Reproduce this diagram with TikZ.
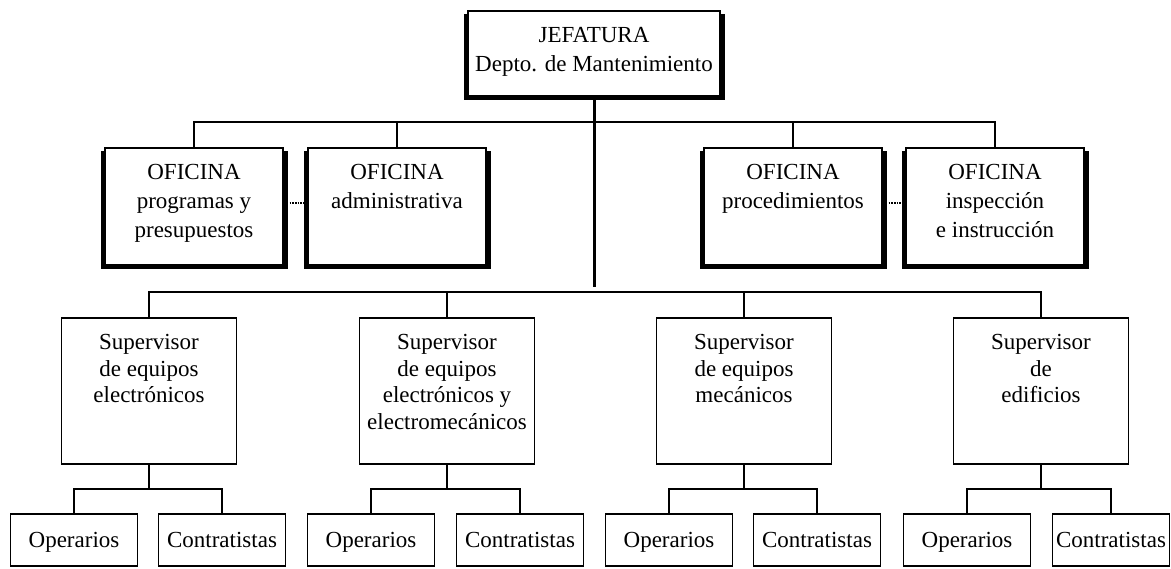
\documentclass[tikz,border=0pt]{standalone}
\usepackage{fontspec}
\setmainfont{Liberation Serif}
\usetikzlibrary{calc}
\begin{document}
\begin{tikzpicture}[x=1pt,y=-1pt,
  link/.style={line width=1.8pt},
  busline/.style={line width=2.6pt},
  trunk/.style={line width=3pt},
  dots/.style={line width=2pt, dash pattern=on 1.5pt off 1.2pt},
  box/.style={draw, line width=1.8pt, inner sep=0pt, anchor=north},
  headbox/.style={box, minimum width=252pt, minimum height=85pt},
  officebox/.style={box, minimum width=178pt, minimum height=117pt},
  supbox/.style={box, minimum width=175pt, minimum height=146pt},
  leafbox/.style={box, minimum width=127pt, minimum height=52pt,
    font=\fontsize{23}{27}\selectfont, text height=17pt, text depth=1pt},
  shadow3d/.style={line width=3.2pt, line join=miter},
  txt/.style={anchor=north, align=center, inner sep=0pt, font=\fontsize{23}{29}\selectfont},
  suptxt/.style={txt, font=\fontsize{23}{26.5}\selectfont}
]
\useasboundingbox (0,0) rectangle (1171,569);

% head of department
\node[headbox] (JEF) at (594,10) {};
\node[txt] (JEFt) at ([yshift=-17.5pt]JEF.north) {JEFATURA\\Depto. de Mantenimiento};

% staff offices
\node[officebox] (O1) at (194,147) {};
\node[officebox] (O2) at (397,147) {};
\node[officebox] (O3) at (793,147) {};
\node[officebox] (O4) at (995,147) {};
\node[txt] (O1t) at ([yshift=-17.5pt]O1.north) {OFICINA\\programas y\\presupuestos};
\node[txt] (O2t) at ([yshift=-17.5pt]O2.north) {OFICINA\\administrativa};
\node[txt] (O3t) at ([yshift=-17.5pt]O3.north) {OFICINA\\procedimientos};
\node[txt] (O4t) at ([yshift=-17.5pt]O4.north) {OFICINA\\inspección\\e instrucción};

% raised frame on the left, bottom and right sides
\foreach \n in {JEF,O1,O2,O3,O4}
  \draw[shadow3d] ([xshift=-2pt,yshift=-4pt]\n.north west)
    -- ([xshift=-2pt,yshift=-2pt]\n.south west)
    -- ([xshift=2pt,yshift=-2pt]\n.south east)
    -- ([xshift=2pt,yshift=-4pt]\n.north east);

% supervisors
\node[supbox] (S1) at (149,317) {};
\node[supbox] (S2) at (447,317) {};
\node[supbox] (S3) at (744,317) {};
\node[supbox] (S4) at (1041,317) {};
\node[suptxt] (S1t) at ([yshift=-17.5pt]S1.north) {Supervisor\\de equipos\\electrónicos};
\node[suptxt] (S2t) at ([yshift=-17.5pt]S2.north) {Supervisor\\de equipos\\electrónicos y\\electromecánicos};
\node[suptxt] (S3t) at ([yshift=-17.5pt]S3.north) {Supervisor\\de equipos\\mecánicos};
\node[suptxt] (S4t) at ([yshift=-17.5pt]S4.north) {Supervisor\\de\\edificios};

% workers and contractors
\node[leafbox] (P1) at (74,513) {Operarios};
\node[leafbox] (C1) at (222,513) {Contratistas};
\node[leafbox] (P2) at (371,513) {Operarios};
\node[leafbox] (C2) at (520,513) {Contratistas};
\node[leafbox] (P3) at (669,513) {Operarios};
\node[leafbox] (C3) at (817,513) {Contratistas};
\node[leafbox] (P4) at (967,513) {Operarios};
\node[leafbox, minimum width=117pt] (C4) at (1111,513) {Contratistas};

% bus lines
\coordinate (obus) at (594,122);
\coordinate (sbus) at (594,292);
\coordinate (b1) at (149,489);
\coordinate (b2) at (447,489);
\coordinate (b3) at (744,489);
\coordinate (b4) at (1041,489);

\draw[link] (O1.north) |- (obus) -| (O4.north);
\draw[link] (O2.north) -- (O2.north |- obus);
\draw[link] (O3.north) -- (O3.north |- obus);

\draw[busline] (S1.north) |- (sbus) -| (S4.north);
\draw[link] (S2.north) -- (S2.north |- sbus);
\draw[link] (S3.north) -- (S3.north |- sbus);

\draw[trunk] (JEF.south) -- ([yshift=5pt]sbus);

\foreach \s/\p/\c/\b in {S1/P1/C1/b1,S2/P2/C2/b2,S3/P3/C3/b3,S4/P4/C4/b4}{
  \draw[link] (\s.south) -- (\b);
  \draw[link] (\p.north) |- (\b) -| (\c.north);
}

% dotted liaison between offices
\draw[dots] ([xshift=3pt,yshift=3pt]O1.east) -- ([xshift=-3pt,yshift=3pt]O2.west);
\draw[dots] ([xshift=3pt,yshift=3pt]O3.east) -- ([xshift=-3pt,yshift=3pt]O4.west);
\end{tikzpicture}
\end{document}
